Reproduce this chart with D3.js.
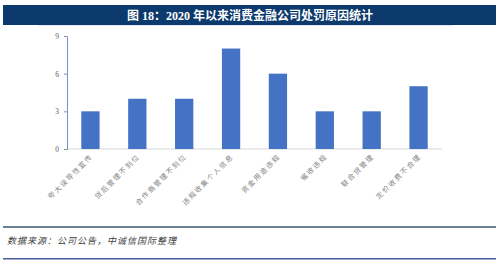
<!DOCTYPE html>
<html>
<head>
<meta charset="utf-8">
<script src="https://cdn.jsdelivr.net/npm/d3@7"></script>
<style>
  html, body { margin: 0; padding: 0; background: #fff; }
  svg { display: block; }
</style>
</head>
<body>
<script>
// Reasons for penalties on consumer finance companies since 2020
const categories = ["夸大误导性宣传", "贷后管理不到位", "合作商管理不到位", "违规收集个人信息",
                    "资金用途违规", "催收违规", "联合贷管理", "定价收费不合理"];
const counts = [3, 4, 4, 8, 6, 3, 3, 5];
const yTicks = [0, 3, 6, 9];
const titleText = "图 18：2020 年以来消费金融公司处罚原因统计";
const sourceText = "数据来源：公司公告，中诚信国际整理";

const W = 500, H = 265;
const svg = d3.select("body").append("svg").attr("width", W).attr("height", H);

// Title banner
svg.append("rect").attr("x", 3).attr("y", 5).attr("width", 493).attr("height", 20).attr("fill", "#0d3a6c");
svg.append("rect").attr("x", 38).attr("y", 25).attr("width", 415).attr("height", 1).attr("fill", "#dfe8f3");
svg.append("text")
  .attr("x", 250).attr("y", 19.5)
  .attr("text-anchor", "middle")
  .attr("fill", "#ffffff")
  .attr("font-family", "'Liberation Serif', 'Noto Sans CJK SC', serif")
  .attr("font-weight", "bold")
  .attr("font-size", 12)
  .text(titleText);

// Plot area
const x = d3.scaleBand().domain(categories).range([67, 442]).paddingInner(0.61).paddingOuter(0.305);
const y = d3.scaleLinear().domain([0, 9]).range([149, 36]);

// Baseline
svg.append("line").attr("x1", 67).attr("x2", 442).attr("y1", y(0)).attr("y2", y(0))
  .attr("stroke", "#d9d9d9").attr("stroke-width", 1);

// Bars
svg.append("g").selectAll("rect").data(counts).join("rect")
  .attr("x", (d, i) => x(categories[i]))
  .attr("width", x.bandwidth())
  .attr("y", d => y(d))
  .attr("height", d => y(0) - y(d))
  .attr("fill", "#4472c4");

// Y axis
const yAxis = svg.append("g").attr("transform", "translate(67,0)")
  .call(d3.axisLeft(y).tickValues(yTicks).tickSize(3).tickPadding(5));
yAxis.select(".domain").attr("stroke", "#6f8fd6");
yAxis.selectAll(".tick line").attr("stroke", "#8c8c8c");
yAxis.selectAll(".tick text")
  .attr("fill", "#595959")
  .attr("font-family", "'Liberation Serif', serif")
  .attr("font-size", 7.5);

// Category labels, rotated
svg.append("g").selectAll("text").data(categories).join("text")
  .attr("transform", d => `translate(${x(d) + x.bandwidth() / 2 + 3},${y(0) + 8}) rotate(-45)`)
  .attr("text-anchor", "end")
  .attr("fill", "#7f7f7f")
  .attr("font-family", "'Noto Sans CJK SC', sans-serif")
  .attr("font-size", 7)
  .attr("letter-spacing", 1.6)
  .text(d => d);

// Footer
svg.append("rect").attr("x", 3).attr("y", 226).attr("width", 493).attr("height", 2).attr("fill", "#6b8193");
svg.append("text")
  .attr("x", 7).attr("y", 244)
  .attr("fill", "#404040")
  .attr("font-family", "'Noto Sans CJK SC', sans-serif")
  .attr("font-style", "italic")
  .attr("font-size", 9)
  .attr("letter-spacing", 1)
  .attr("transform", "skewX(0)")
  .text(sourceText);
svg.append("rect").attr("x", 3).attr("y", 258).attr("width", 493).attr("height", 1.5).attr("fill", "#4a5a9c");
</script>
</body>
</html>
